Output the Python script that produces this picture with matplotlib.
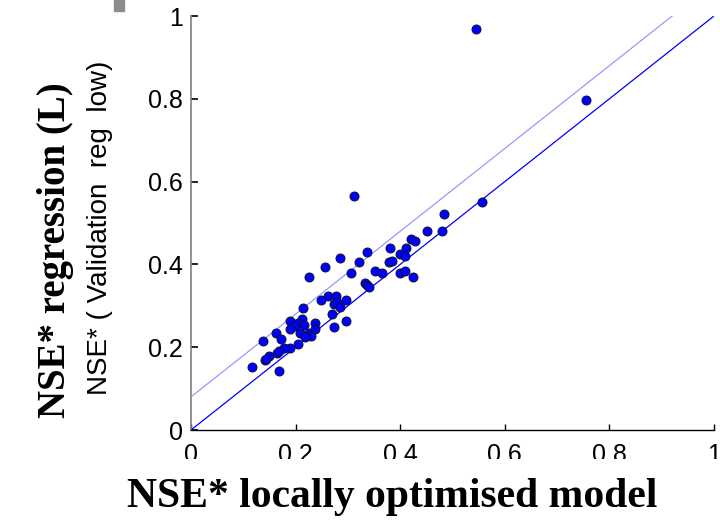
import matplotlib
matplotlib.use('Agg')
import matplotlib.pyplot as plt
from matplotlib.patches import Rectangle
from matplotlib.transforms import Bbox

# NSE* of locally optimised model (x) vs regression validation (y)
nse_local = [
    0.452, 0.480, 0.420, 0.428, 0.380, 0.412, 0.337, 0.400, 0.409, 0.285,
    0.321, 0.379, 0.385, 0.256, 0.352, 0.365, 0.400, 0.409, 0.305, 0.225,
    0.424, 0.333, 0.337, 0.341, 0.261, 0.277, 0.249, 0.296, 0.274, 0.279,
    0.285, 0.214, 0.269, 0.296, 0.190, 0.213, 0.237, 0.205, 0.198, 0.217,
    0.273, 0.189, 0.237, 0.162, 0.208, 0.225, 0.230, 0.218, 0.138, 0.173,
    0.205, 0.189, 0.178, 0.150, 0.141, 0.143, 0.165, 0.168, 0.117, 0.169,
    0.312, 0.556, 0.484, 0.544, 0.755,
]
nse_regression = [
    0.481, 0.481, 0.461, 0.456, 0.440, 0.440, 0.430, 0.425, 0.421, 0.415,
    0.405, 0.405, 0.409, 0.394, 0.385, 0.380, 0.380, 0.385, 0.380, 0.369,
    0.369, 0.354, 0.350, 0.345, 0.324, 0.324, 0.314, 0.314, 0.304, 0.308,
    0.298, 0.294, 0.279, 0.264, 0.264, 0.269, 0.259, 0.258, 0.251, 0.254,
    0.249, 0.245, 0.243, 0.234, 0.234, 0.234, 0.228, 0.224, 0.214, 0.219,
    0.208, 0.199, 0.199, 0.179, 0.169, 0.172, 0.187, 0.190, 0.153, 0.143,
    0.566, 0.551, 0.521, 0.969, 0.798,
]

# reference lines: 1:1 and 1:1 shifted up
one_to_one = [0, 1]
offset = 0.08

ticks = [0, 0.2, 0.4, 0.6, 0.8, 1]
tick_labels = ['0', '0.2', '0.4', '0.6', '0.8', '1']

fig = plt.figure(figsize=(7.2, 5.22), dpi=100)
ax = fig.add_axes([191 / 720, 1 - 430 / 522, 523 / 720, 414 / 522])

ax.plot(one_to_one, one_to_one, color='#0000ff', linewidth=0.9, zorder=1)
ax.plot([0, 1 - offset], [offset, 1], color='#9999ff', linewidth=0.9, zorder=1)
ax.scatter(nse_local, nse_regression, s=42, facecolor='#0000ff',
           edgecolor='#101030', linewidth=0.7, zorder=3, clip_on=False)

ax.set_xlim(0, 1)
ax.set_ylim(0, 1)
ax.set_xticks(ticks)
ax.set_xticklabels(tick_labels)
ax.set_yticks(ticks)
ax.set_yticklabels(tick_labels)

for lab in ax.get_xticklabels() + ax.get_yticklabels():
    lab.set_fontfamily('Liberation Sans')
    lab.set_fontsize(18)

# the x tick labels are cut off at the bottom in the original
clip = Bbox([[0, 522 - 459], [720, 522]])
for lab in ax.get_xticklabels():
    lab.set_clip_box(clip)
    lab.set_clip_on(True)

ax.spines['top'].set_visible(False)
ax.spines['right'].set_visible(False)
ax.spines['left'].set_color('#808080')
ax.spines['left'].set_linewidth(1.2)
ax.spines['bottom'].set_color('black')
ax.spines['bottom'].set_linewidth(1.0)
ax.tick_params(axis='y', direction='in', length=5, width=1.2, pad=6)
ax.tick_params(axis='x', direction='in', length=4, width=1.0, pad=9)

# axis titles
fig.text(55 / 720, 1 - 250 / 522, 'NSE* regression (L)', rotation=90,
         ha='center', va='center', family='Liberation Serif',
         weight='bold', fontsize=28)
fig.text(100 / 720, 1 - 228 / 522, 'NSE* ( Validation  reg  low)',
         rotation=90, ha='center', va='center',
         family='Liberation Sans', fontsize=20)
fig.text(392 / 720, 1 - 497 / 522, 'NSE* locally optimised model',
         ha='center', va='center', family='Liberation Serif',
         weight='bold', fontsize=30)

# grey stub from neighbouring panel
fig.patches.append(Rectangle((114 / 720, 1 - 11 / 522), 10 / 720, 11 / 522,
                             transform=fig.transFigure, color='#8c8c8c'))

fig.savefig('out.png', dpi=100)
